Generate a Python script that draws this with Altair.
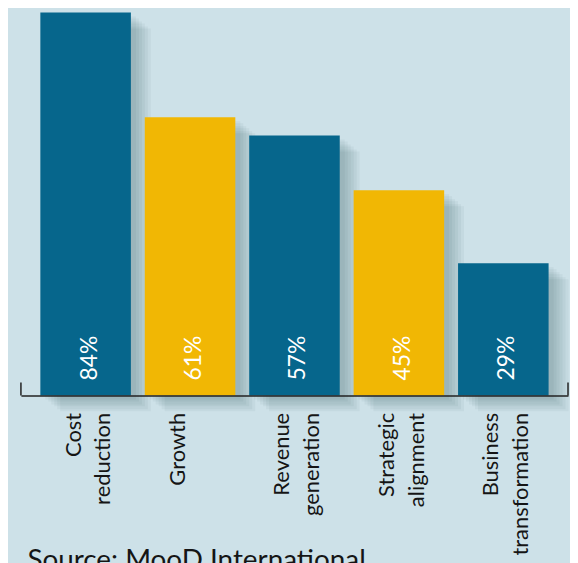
import altair as alt
import pandas as pd

categories = ["Cost reduction", "Growth", "Revenue generation", "Strategic alignment", "Business transformation"]
values = [84, 61, 57, 45, 29]
bar_colors = ["#06668c", "#f1b704"]
source_text = "Source: MooD International"

df = pd.DataFrame({"category": categories, "value": values})
df["parity"] = [i % 2 for i in range(len(df))]
df["label"] = [f"{v}%" for v in values]

W, H = 550, 385
FONT = "Lato"

x_enc = alt.X(
    "category:N",
    sort=categories,
    scale=alt.Scale(paddingInner=0.133, paddingOuter=0.186),
    axis=alt.Axis(
        title=source_text,
        titleX=6,
        titleY=174,
        titleAlign="left",
        titleAnchor="start",
        titleBaseline="alphabetic",
        titleAngle=0,
        titleFont=FONT,
        titleFontSize=28,
        titleFontWeight="normal",
        titleColor="#151515",
        labelExpr="split(datum.label, ' ')",
        labelAngle=270,
        labelAlign="right",
        labelBaseline="middle",
        labelLineHeight=30,
        labelOffset=-12,
        labelPadding=17,
        labelFont=FONT,
        labelFontSize=22,
        labelColor="#151515",
        ticks=False,
        tickSize=0,
        domainColor="#222222",
        domainWidth=1.5,
        zindex=1,
    ),
)
y_enc = alt.Y("value:Q", scale=alt.Scale(nice=False, zero=True), axis=None)

base = alt.Chart(df)

shadows = [
    base.mark_bar(color="#0a2530", opacity=0.045, xOffset=o, yOffset=round(o * 0.8)).encode(x=x_enc, y=y_enc)
    for o in (5, 8, 11, 14, 17, 20)
]

bars = base.mark_bar().encode(
    x=x_enc,
    y=y_enc,
    color=alt.Color("parity:N", scale=alt.Scale(domain=[0, 1], range=bar_colors), legend=None),
)

labels = base.mark_text(
    angle=270, align="left", baseline="alphabetic", dx=15, dy=11,
    fontSize=23, font=FONT, color="white",
).encode(x=x_enc, y=alt.datum(0), text="label:N")

end_ticks = [
    alt.Chart(df.head(1)).mark_rule(color="#222222", strokeWidth=1.5).encode(
        x=alt.value(xv), y=alt.value(H - 13), y2=alt.value(H)
    )
    for xv in (0, W)
]

chart = alt.layer(*shadows, bars, labels, *end_ticks).properties(
    width=W,
    height=H,
    padding={"left": 13, "top": 3, "right": 2, "bottom": 172},
    autosize=alt.AutoSizeParams(type="none"),
    background="#cde1e8",
).configure_view(stroke=None)

chart.save("out.html", embed_options={"renderer": "svg", "actions": False})
